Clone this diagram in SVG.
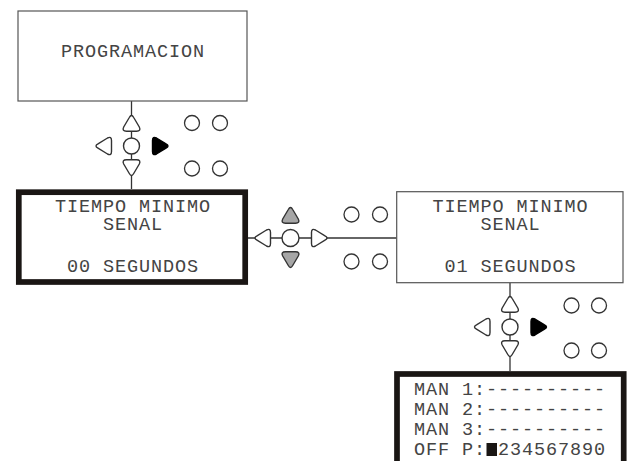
<svg xmlns="http://www.w3.org/2000/svg" xmlns:xlink="http://www.w3.org/1999/xlink" width="629" height="461" viewBox="0 0 629 461">
<style>
  .txt { font-family: "Liberation Mono", "Courier New", monospace; font-size: 18.5px; letter-spacing: 0.9px; fill: #444; }
  .mid { text-anchor: middle; }
  .thin { fill: #fff; stroke: #555; stroke-width: 1.2; }
  .thick { fill: #fff; stroke: #1a1614; stroke-width: 5.7; }
  .conn { stroke: #333; stroke-width: 1.3; fill: none; }
  .key { fill: #fff; stroke: #333; stroke-width: 1.4; }
  .keyblack { fill: #000; stroke: #000; stroke-width: 1.4; }
  .keygray { fill: #a6a6a6; stroke: #333; stroke-width: 1.4; }
  .led { fill: #fff; stroke: #333; stroke-width: 1.3; }
</style>
<defs>
  <path id="tri-up" d="M -2.2,-28.5 Q 0,-32.5 2.2,-28.5 L 7.8,-19 Q 9.8,-14.8 5,-14.8 L -5,-14.8 Q -9.8,-14.8 -7.8,-19 Z"/>
  <path id="tri-down" d="M -2.2,27.5 L -7.8,18 Q -9.8,13.8 -5,13.8 L 5,13.8 Q 9.8,13.8 7.8,18 L 2.2,27.5 Q 0,31.5 -2.2,27.5 Z"/>
  <path id="tri-left" d="M -33.5,-2.2 L -24,-8 Q -20,-10 -20,-5.5 L -20,5.5 Q -20,10 -24,8 L -33.5,2.2 Q -37.5,0 -33.5,-2.2 Z"/>
  <path id="tri-right" d="M 34.5,-2.2 L 25,-8 Q 21,-10 21,-5.5 L 21,5.5 Q 21,10 25,8 L 34.5,2.2 Q 38.5,0 34.5,-2.2 Z"/>
</defs>

<g id="connectors">
  <line class="conn" x1="131.5" y1="101" x2="131.5" y2="189"/>
  <line class="conn" x1="248" y1="238" x2="396.7" y2="238"/>
  <line class="conn" x1="510" y1="282.7" x2="510" y2="371"/>
</g>

<g id="node-programacion">
  <rect class="thin" x="18" y="11" width="229" height="90"/>
  <text class="txt mid" x="133" y="57">PROGRAMACION</text>
</g>

<g id="node-tiempo-00">
  <rect class="thick" x="18.8" y="192.2" width="226.4" height="89.8"/>
  <text class="txt mid" x="133" y="212">TIEMPO MINIMO</text>
  <text class="txt mid" x="133" y="229.5">SENAL</text>
  <text class="txt mid" x="133" y="272">00 SEGUNDOS</text>
</g>

<g id="node-tiempo-01">
  <rect class="thin" x="396.7" y="191.7" width="226.3" height="91"/>
  <text class="txt mid" x="510.5" y="212">TIEMPO MINIMO</text>
  <text class="txt mid" x="510.5" y="229.5">SENAL</text>
  <text class="txt mid" x="510.5" y="272">01 SEGUNDOS</text>
</g>

<g id="node-man">
  <rect class="thick" x="397" y="374" width="226.7" height="100"/>
  <text class="txt" x="414" y="395">MAN 1:----------</text>
  <text class="txt" x="414" y="415">MAN 2:----------</text>
  <text class="txt" x="414" y="435">MAN 3:----------</text>
  <text class="txt" x="414" y="455">OFF P: 234567890</text>
  <rect x="486.5" y="443" width="10.5" height="13" fill="#1a1614"/>
</g>

<g id="keypad-1" transform="translate(131.5,146)">
  <use xlink:href="#tri-up" class="key"/>
  <use xlink:href="#tri-down" class="key"/>
  <use xlink:href="#tri-left" class="key"/>
  <use xlink:href="#tri-right" class="keyblack"/>
  <circle class="key" cx="0" cy="0" r="8"/>
  <circle class="led" cx="60.5" cy="-23" r="7.5"/>
  <circle class="led" cx="88.5" cy="-23" r="7.5"/>
  <circle class="led" cx="60.5" cy="22.5" r="7.5"/>
  <circle class="led" cx="88.5" cy="22.5" r="7.5"/>
</g>

<g id="keypad-2" transform="translate(290.5,238)">
  <use xlink:href="#tri-up" class="keygray"/>
  <use xlink:href="#tri-down" class="keygray"/>
  <use xlink:href="#tri-left" class="key"/>
  <use xlink:href="#tri-right" class="key"/>
  <circle class="key" cx="0" cy="0" r="8.5"/>
  <circle class="led" cx="61" cy="-23.5" r="7.5"/>
  <circle class="led" cx="89.5" cy="-23.5" r="7.5"/>
  <circle class="led" cx="61" cy="23.5" r="7.5"/>
  <circle class="led" cx="89.5" cy="23.5" r="7.5"/>
</g>

<g id="keypad-3" transform="translate(510,327)">
  <use xlink:href="#tri-up" class="key"/>
  <use xlink:href="#tri-down" class="key"/>
  <use xlink:href="#tri-left" class="key"/>
  <use xlink:href="#tri-right" class="keyblack"/>
  <circle class="key" cx="0" cy="0" r="8"/>
  <circle class="led" cx="61.5" cy="-21.5" r="7.5"/>
  <circle class="led" cx="89" cy="-21.5" r="7.5"/>
  <circle class="led" cx="61.5" cy="23.5" r="7.5"/>
  <circle class="led" cx="89" cy="23.5" r="7.5"/>
</g>
</svg>
